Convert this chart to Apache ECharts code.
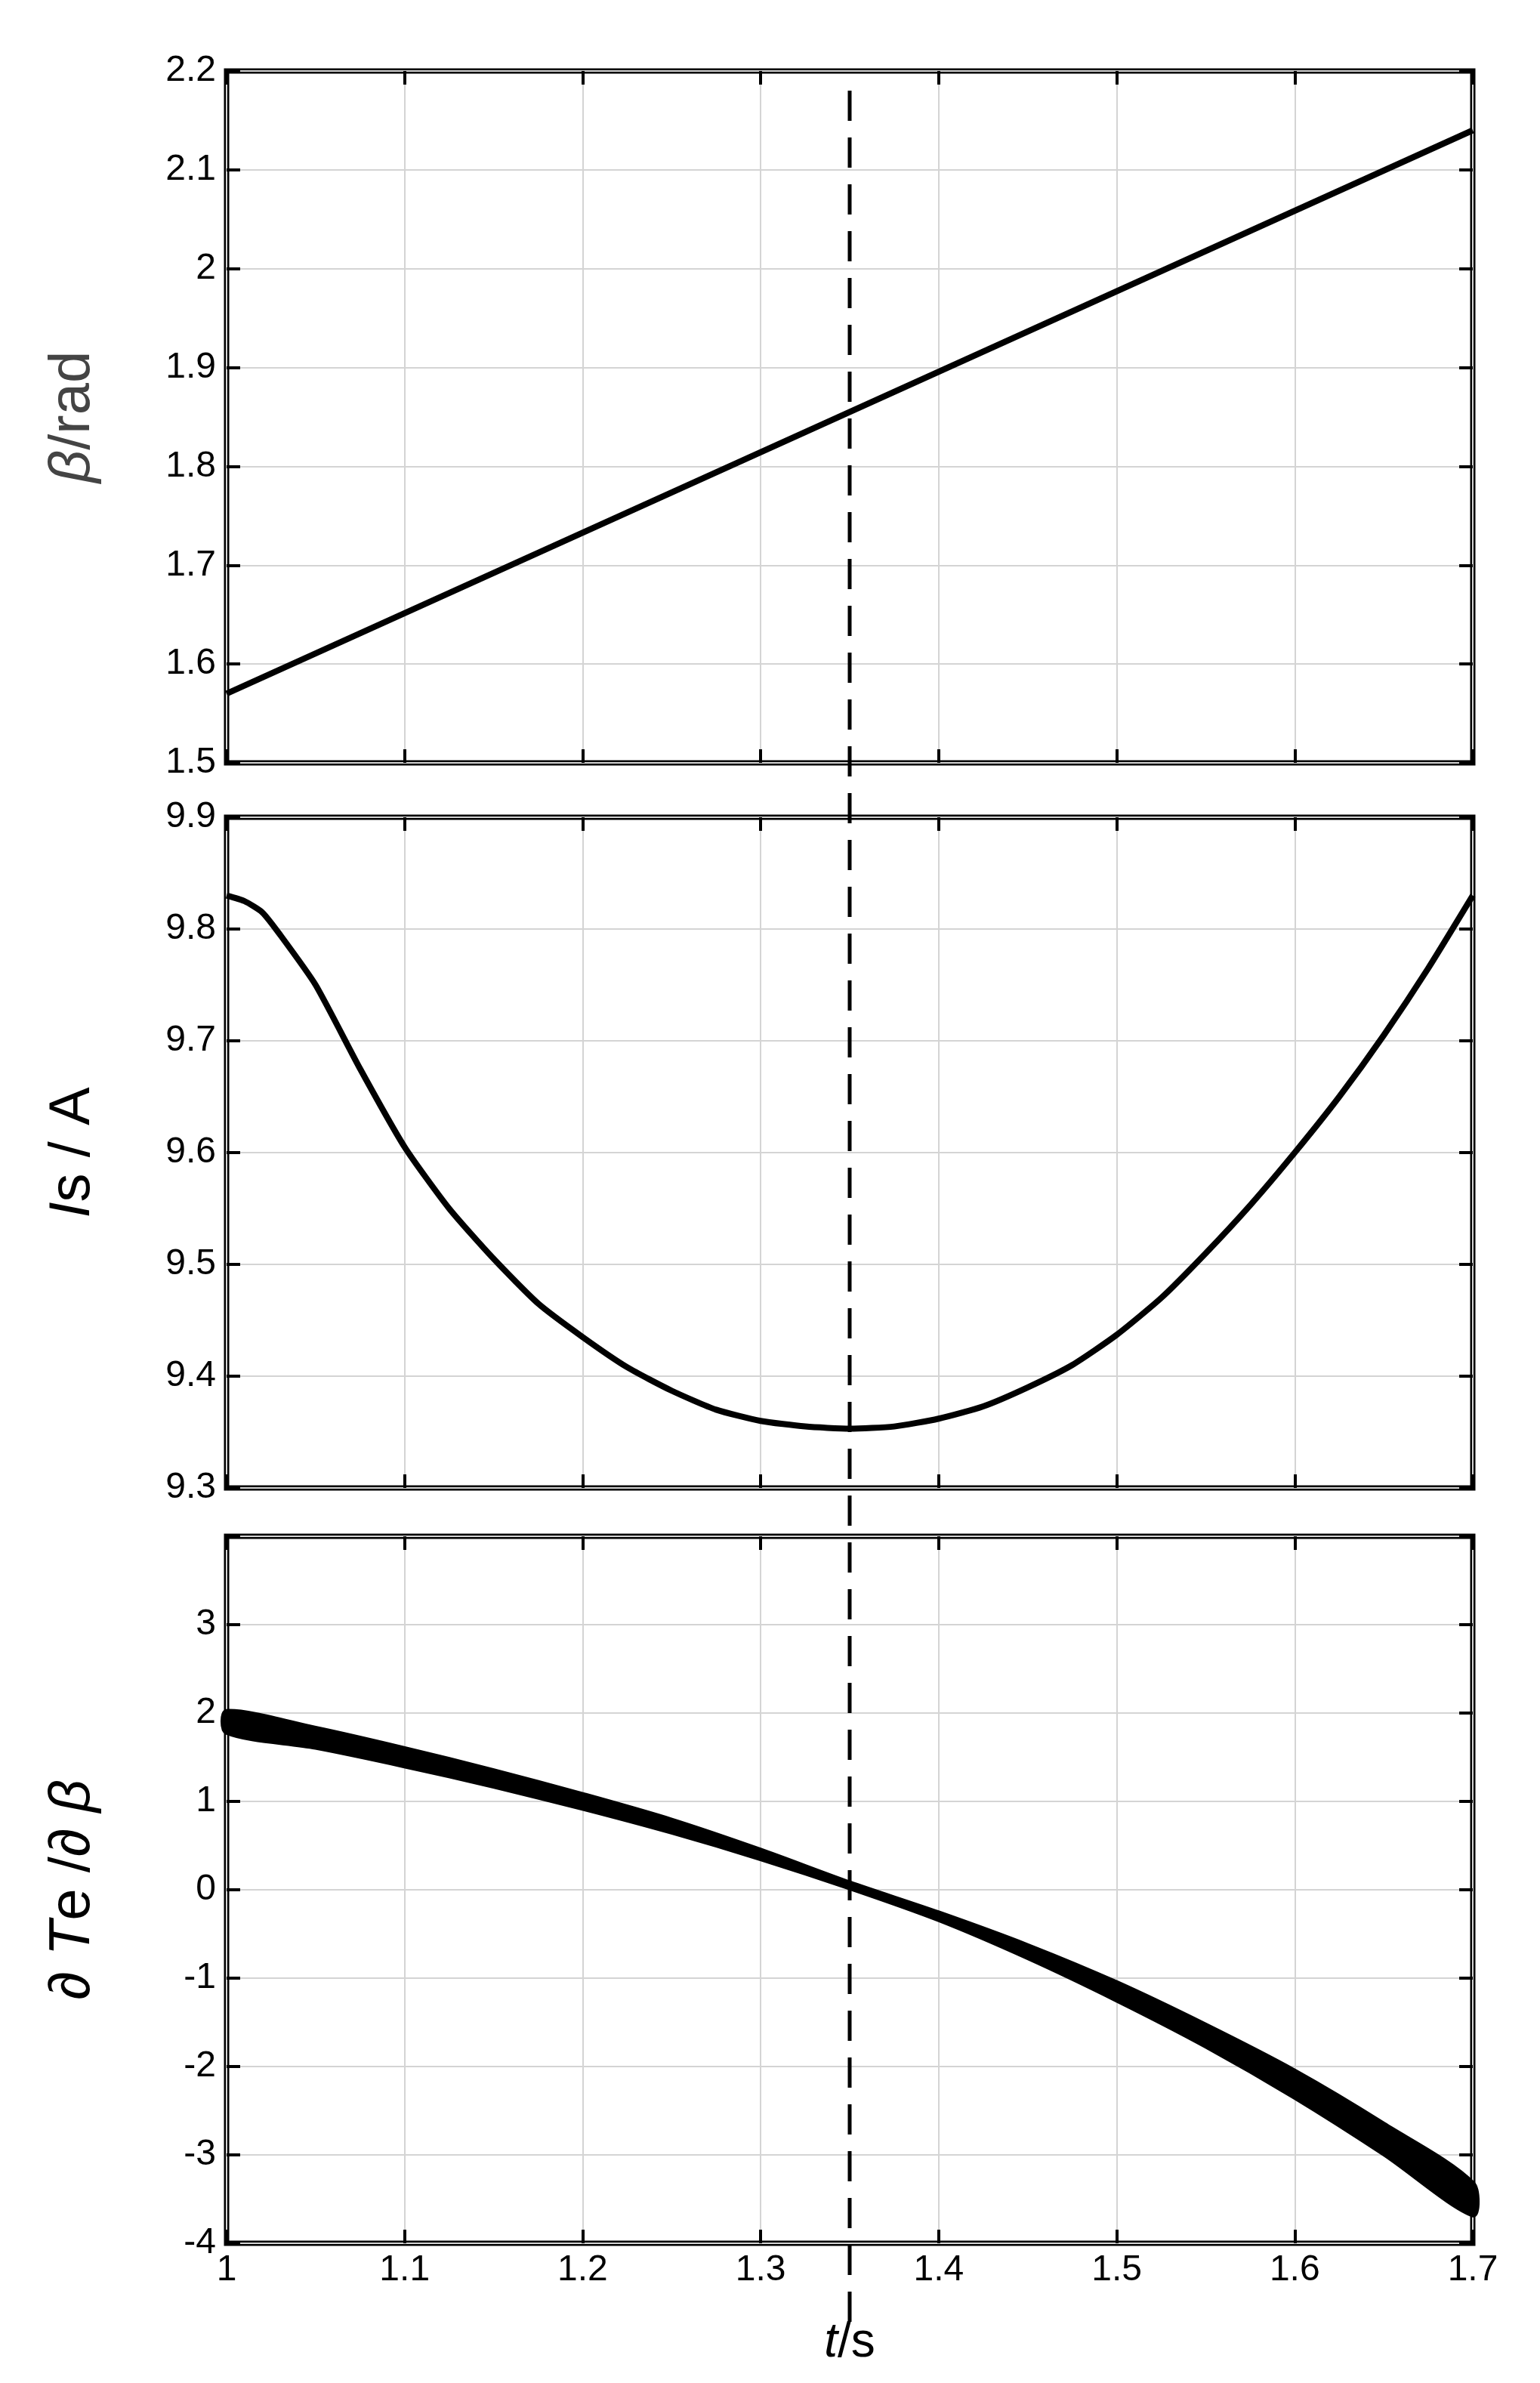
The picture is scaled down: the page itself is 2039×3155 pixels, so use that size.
<!DOCTYPE html>
<html>
<head>
<meta charset="utf-8">
<script src="https://cdn.jsdelivr.net/npm/echarts@6/dist/echarts.min.js"></script>
<style>html,body{margin:0;padding:0;background:#fff}#c{width:2039px;height:3155px}</style>
</head>
<body>
<div id="c"></div>
<script>
// time axis shared by all panels
const tBeta = [1.0, 1.7];
const beta = [1.57, 2.14];

const tIs = [1.0, 1.01, 1.02, 1.03, 1.05, 1.075, 1.1, 1.125, 1.15, 1.175, 1.2, 1.225, 1.25, 1.275, 1.3, 1.325, 1.35,
  1.375, 1.4, 1.425, 1.45, 1.475, 1.5, 1.525, 1.55, 1.575, 1.6, 1.625, 1.65, 1.675, 1.7];
const is = [9.83, 9.825, 9.815, 9.795, 9.75, 9.675, 9.605, 9.55, 9.505, 9.465, 9.435, 9.408, 9.387, 9.37, 9.36, 9.355, 9.353,
  9.355, 9.362, 9.373, 9.39, 9.41, 9.437, 9.47, 9.51, 9.553, 9.60, 9.65, 9.705, 9.765, 9.83];

const tDt = [1.0, 1.05, 1.1, 1.15, 1.2, 1.25, 1.3, 1.35, 1.4, 1.45, 1.5, 1.55, 1.6, 1.65, 1.7];
const dtMid = [1.9, 1.72, 1.5, 1.26, 1.0, 0.72, 0.4, 0.05, -0.3, -0.7, -1.15, -1.65, -2.2, -2.82, -3.5];
const dtHalf = [0.12, 0.11, 0.1, 0.09, 0.08, 0.07, 0.05, 0.03, 0.04, 0.07, 0.1, 0.12, 0.15, 0.17, 0.18];

const tMark = 1.35;

const chart = echarts.init(document.getElementById('c'));
const font = 'Liberation Sans, Arial, sans-serif';
const grids = [
  { left: 300, right: 89, top: 94, height: 916 },
  { left: 300, right: 89, top: 1082, height: 888 },
  { left: 300, right: 89, top: 2034, height: 936 }
];
const yCfg = [
  { min: 1.5, max: 2.2, interval: 0.1, fmt: v => +v.toFixed(1) + '' },
  { min: 9.3, max: 9.9, interval: 0.1, fmt: v => v.toFixed(1) },
  { min: -4, max: 4, interval: 1, fmt: v => v === 4 ? '' : String(v) }
];
const yNames = [
  '{i|β}{n|/rad}',
  '{i|I}{n|s / A}',
  '{n|∂}{i| T}{n|e /∂}{i| β}'
];
const tick = { inside: true, length: 18, lineStyle: { color: '#000', width: 4 } };
const xAxis = [], yAxis = [];
grids.forEach((g, k) => {
  xAxis.push({
    type: 'value', gridIndex: k, min: 1, max: 1.7, interval: 0.1,
    axisLine: { show: false, onZero: false }, axisTick: tick,
    splitLine: { lineStyle: { color: '#d4d4d4', width: 2 } },
    axisLabel: { show: k === 2, color: '#000', fontSize: 48, fontFamily: font, margin: 12,
      formatter: v => +v.toFixed(1) + '' },
    name: k === 2 ? '{i|t}{n|/s}' : '', nameLocation: 'middle', nameGap: 100,
    nameTextStyle: { rich: { i: { fontStyle: 'italic', fontSize: 64, fontFamily: font, color: '#000' },
      n: { fontSize: 64, fontFamily: font, color: '#000' } } }
  });
  xAxis.push({
    type: 'value', gridIndex: k, position: 'top', min: 1, max: 1.7, interval: 0.1,
    axisLine: { show: false, onZero: false }, axisTick: tick,
    splitLine: { show: false }, axisLabel: { show: false }
  });
  const c = yCfg[k];
  yAxis.push({
    type: 'value', gridIndex: k, min: c.min, max: c.max, interval: c.interval,
    axisLine: { show: false, onZero: false }, axisTick: tick,
    splitLine: { lineStyle: { color: '#d4d4d4', width: 2 } },
    axisLabel: { color: '#000', fontSize: 48, fontFamily: font, margin: 14, formatter: c.fmt },
    name: yNames[k], nameLocation: 'middle', nameGap: 165, nameRotate: 90,
    nameTextStyle: { rich: {
      i: { fontStyle: 'italic', fontSize: 76, fontFamily: font, color: k === 0 ? '#444' : '#000' },
      n: { fontSize: 76, fontFamily: font, color: k === 0 ? '#444' : '#000' } } }
  });
  yAxis.push({
    type: 'value', gridIndex: k, position: 'right', min: c.min, max: c.max, interval: c.interval,
    axisLine: { show: false, onZero: false }, axisTick: tick,
    splitLine: { show: false }, axisLabel: { show: false }
  });
});

const blk = { color: '#000', width: 8 };
chart.setOption({
  animation: false,
  backgroundColor: '#fff',
  grid: grids.map(g => Object.assign({ show: true, borderColor: '#000', borderWidth: 7, backgroundColor: 'transparent' }, g)),
  xAxis, yAxis,
  series: [
    { type: 'line', xAxisIndex: 0, yAxisIndex: 0, showSymbol: false, lineStyle: blk,
      data: tBeta.map((t, i) => [t, beta[i]]) },
    { type: 'line', xAxisIndex: 2, yAxisIndex: 2, showSymbol: false, smooth: 0.2, lineStyle: blk,
      data: tIs.map((t, i) => [t, is[i]]) },
    { // oscillation envelope of dTe/dbeta, drawn as a filled band through the axis scales
      type: 'custom', xAxisIndex: 4, yAxisIndex: 4, coordinateSystem: 'cartesian2d',
      data: [0],
      renderItem: (params, api) => {
        const up = tDt.map((t, i) => api.coord([t, dtMid[i] + dtHalf[i]]));
        const lo = tDt.map((t, i) => api.coord([t, dtMid[i] - dtHalf[i]])).reverse();
        return { type: 'polygon', shape: { points: up.concat(lo), smooth: 0.3 },
          style: { fill: '#000', stroke: '#000', lineWidth: 6 } };
      }
    },
    { type: 'line', xAxisIndex: 4, yAxisIndex: 4, showSymbol: false, smooth: 0.3, lineStyle: { color: '#000', width: 8 },
      data: tDt.map((t, i) => [t, dtMid[i]]) }
  ]
});

// dashed marker spanning all three panels, placed via the bottom x scale
const px = chart.convertToPixel({ xAxisIndex: 4 }, tMark);
chart.setOption({
  graphic: [{
    type: 'line', z: 100,
    shape: { x1: px, y1: 120, x2: px, y2: 3090 },
    style: { stroke: '#000', lineWidth: 5, lineDash: [40, 22] }
  }]
});
</script>
</body>
</html>
